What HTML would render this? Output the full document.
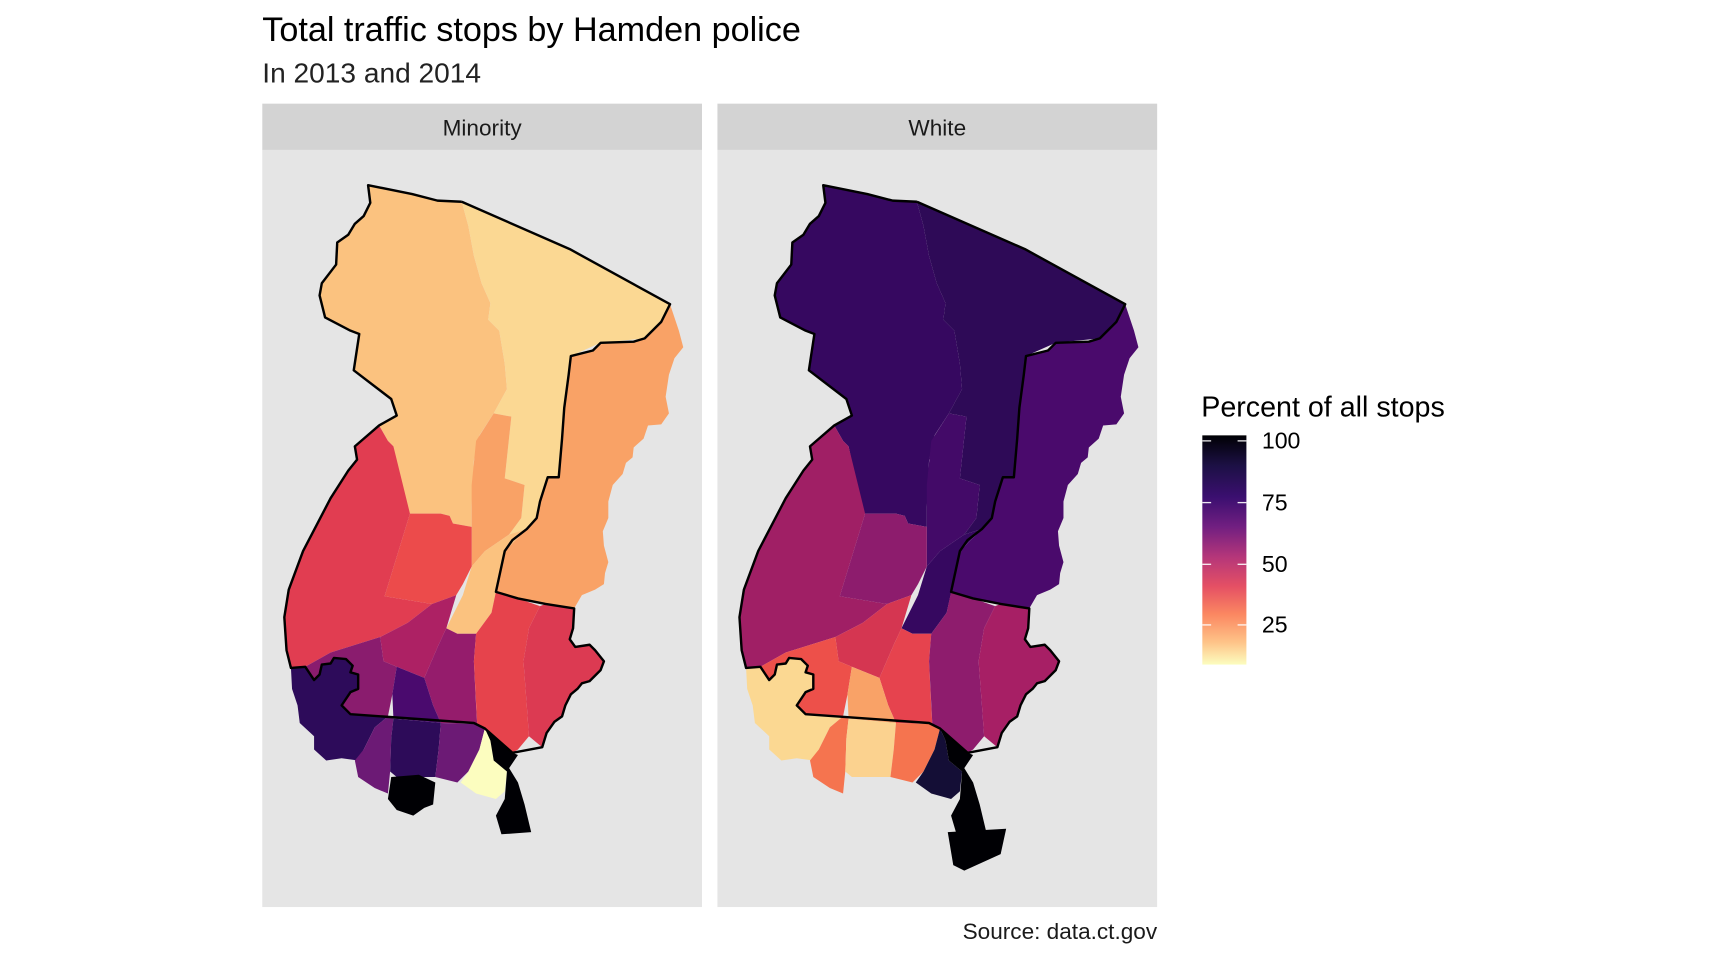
<!DOCTYPE html>
<html><head><meta charset="utf-8"><style>html,body{margin:0;padding:0;background:#fff}svg{display:block}</style></head>
<body>
<svg width="1728" height="960" viewBox="0 0 1568 871" xmlns="http://www.w3.org/2000/svg" font-family="Liberation Sans, Arial, sans-serif">
<defs>
<linearGradient id="mg" x1="0" y1="0" x2="0" y2="1">
<stop offset="0" stop-color="#000004"/><stop offset="0.13" stop-color="#1c1044"/><stop offset="0.27" stop-color="#3b0f70"/><stop offset="0.4" stop-color="#721f81"/><stop offset="0.53" stop-color="#b5367a"/><stop offset="0.66" stop-color="#e55064"/><stop offset="0.78" stop-color="#fb8761"/><stop offset="0.9" stop-color="#fec287"/><stop offset="1" stop-color="#fcfdbf"/>
</linearGradient>
</defs>
<rect width="1568" height="871" fill="#fff"/>
<text x="238" y="37" font-size="31" fill="#000">Total traffic stops by Hamden police</text>
<text x="238" y="75" font-size="25.5" fill="#222">In 2013 and 2014</text>
<rect x="238" y="94" width="399" height="42" fill="#d3d3d3"/>
<rect x="651" y="94" width="399" height="42" fill="#d3d3d3"/>
<text x="437.5" y="123" font-size="20.5" text-anchor="middle" fill="#1a1a1a">Minority</text>
<text x="850.5" y="123" font-size="20.5" text-anchor="middle" fill="#1a1a1a">White</text>
<rect x="238" y="136" width="399" height="687" fill="#e5e5e5"/>
<rect x="651" y="136" width="399" height="687" fill="#e5e5e5"/>
<text x="1050" y="852" font-size="20.5" text-anchor="end" fill="#1a1a1a">Source: data.ct.gov</text>

<!-- Minority panel -->
<g id="m" stroke="none">
<polygon fill="#fbc27f" points="334,168 374,176 397,182 419,183 425,205 430,232 437,257 445,275 443,290 453,300 458,330 460,353 448,375 435,395 430,418 428,460 428,478 411,475 408,468 400,466 370,466 357,405 352,400 344,386 360,377 355,362 321,336 326,303 318,300 295,288 290,268 292,257 305,240 306,220 316,213 322,203 330,196 336,184"/>
<polygon fill="#fbd893" points="419,183 517,226 608,276 600,292 585,307 545,311 518,323 516,340 512,370 510,398 507,433 497,433 490,455 487,470 478,480 462,485 473,470 476,440 458,434 464,378 448,375 460,353 458,330 453,300 443,290 445,275 437,257 430,232 425,205"/>
<polygon fill="#f9a266" points="448,375 464,378 458,434 476,440 473,470 462,485 440,500 428,514 428,480 428,440 432,400"/>
<polygon fill="#fbc27f" points="462,485 478,480 458,500 450,538 446,556 432,575 415,575 405,570 420,540 428,514 440,500"/>
<polygon fill="#f9a266" points="608,276 616,300 620,315 612,325 607,340 604,360 607,375 600,385 588,386 584,398 575,406 574,415 568,420 565,430 556,440 552,455 552,470 547,482 548,495 552,510 549,520 548,530 540,535 528,540 521,552 495,548 470,543 450,537 458,500 478,480 487,470 490,455 497,433 507,433 510,398 512,370 516,340 518,323 538,318 545,311 575,310 585,307 600,292"/>
<polygon fill="#e13d51" points="344,386 322,405 324,417 316,427 300,452 275,500 262,535 258,560 260,590 264,606 277,605 300,592 345,578 370,565 392,548 349,541 372,466 357,405 352,400"/>
<polygon fill="#ec4b4b" points="372,466 400,466 408,468 411,475 428,478 428,514 420,530 414,540 392,548 349,541"/>
<polygon fill="#ad2164" points="392,548 414,540 405,570 398,585 385,615 360,605 348,600 345,578 370,565"/>
<polygon fill="#8a1c6e" points="277,605 300,592 345,578 348,600 360,605 356,630 352,650 318,648 310,640 318,628 325,625 325,612 318,610 320,604 314,598 303,597 300,602 292,603 290,612 285,617"/>
<polygon fill="#2d0b5a" points="264,606 277,605 285,617 290,612 292,603 300,602 303,597 314,598 320,604 318,610 325,612 325,625 318,628 310,640 318,648 352,650 340,660 330,680 325,690 310,688 296,690 285,680 285,668 272,656 270,640 265,625"/>
<polygon fill="#951c6c" points="405,570 415,575 432,575 430,600 432,640 433,657 400,656 393,640 385,615 398,585"/>
<polygon fill="#4a0a6e" points="360,605 385,615 393,640 400,656 357,652 356,630"/>
<polygon fill="#e6434c" points="432,575 446,556 450,537 470,543 490,550 480,570 475,600 478,640 480,668 470,680 465,683 440,661 433,657 430,600"/>
<polygon fill="#dc3a52" points="490,550 495,548 521,552 520,570 517,580 522,587 535,585 540,590 548,600 545,608 535,618 528,620 524,625 518,630 513,640 510,650 503,655 496,665 492,678 480,668 478,640 475,600 480,570"/>
<polygon fill="#6c1a75" points="340,660 352,650 357,652 355,670 354,700 352,720 340,715 325,705 322,690 330,680"/>
<polygon fill="#2d0b59" points="357,652 400,656 398,680 395,705 380,705 360,705 354,700 355,670"/>
<polygon fill="#6c1a75" points="400,656 433,657 440,661 435,680 425,700 415,710 395,705 398,680"/>
<polygon fill="#000004" points="355,705 380,703 395,710 393,730 385,733 375,740 360,735 352,725"/>
<polygon fill="#fcfdbf" points="440,661 445,672 448,690 460,700 458,718 450,725 432,720 418,710 425,700 435,680"/>
<polygon fill="#000004" points="440,661 465,683 470,685 462,697 470,710 476,730 482,755 455,757 450,740 458,725 460,700 448,690 445,672"/>
<polyline fill="none" stroke="#000" stroke-width="2.2" stroke-linejoin="round" points="419,183 397,182 374,176 334,168 336,184 330,196 322,203 316,213 306,220 305,240 292,257 290,268 295,288 318,300 326,303 321,336 355,362 360,377 344,386 322,405 324,417 316,427 300,452 275,500 262,535 258,560 260,590 264,606 277,605 285,617 290,612 292,603 300,602 303,597 314,598 320,604 318,610 325,612 325,625 318,628 310,640 318,648 430,656 440,661 465,683 492,678 496,665 503,655 510,650 513,640 518,630 524,625 528,620 535,618 545,608 548,600 540,590 535,585 522,587 517,580 520,570 521,552 495,548 470,543 450,537 458,500 465,490 478,480 487,470 490,455 497,433 507,433 510,398 512,370 516,340 518,323 538,318 545,311 575,310 585,307 600,292 608,276 517,226 419,183"/>
</g>

<!-- White panel -->
<g transform="translate(413,0)">
<polygon fill="#360860" points="334,168 374,176 397,182 419,183 425,205 430,232 437,257 445,275 443,290 453,300 458,330 460,353 448,375 435,395 430,418 428,460 428,478 411,475 408,468 400,466 370,466 357,405 352,400 344,386 360,377 355,362 321,336 326,303 318,300 295,288 290,268 292,257 305,240 306,220 316,213 322,203 330,196 336,184"/>
<polygon fill="#2e0a57" points="419,183 517,226 608,276 600,292 585,307 545,311 518,323 516,340 512,370 510,398 507,433 497,433 490,455 487,470 478,480 462,485 473,470 476,440 458,434 464,378 448,375 460,353 458,330 453,300 443,290 445,275 437,257 430,232 425,205"/>
<polygon fill="#430a68" points="448,375 464,378 458,434 476,440 473,470 462,485 440,500 428,514 428,480 428,440 432,400"/>
<polygon fill="#360860" points="462,485 478,480 458,500 450,538 446,556 432,575 415,575 405,570 420,540 428,514 440,500"/>
<polygon fill="#4a0a6c" points="608,276 616,300 620,315 612,325 607,340 604,360 607,375 600,385 588,386 584,398 575,406 574,415 568,420 565,430 556,440 552,455 552,470 547,482 548,495 552,510 549,520 548,530 540,535 528,540 521,552 495,548 470,543 450,537 458,500 478,480 487,470 490,455 497,433 507,433 510,398 512,370 516,340 518,323 538,318 545,311 575,310 585,307 600,292"/>
<polygon fill="#a01f65" points="344,386 322,405 324,417 316,427 300,452 275,500 262,535 258,560 260,590 264,606 277,605 300,592 345,578 370,565 392,548 349,541 372,466 357,405 352,400"/>
<polygon fill="#8d1c6d" points="372,466 400,466 408,468 411,475 428,478 428,514 420,530 414,540 392,548 349,541"/>
<polygon fill="#d53651" points="392,548 414,540 405,570 398,585 385,615 360,605 348,600 345,578 370,565"/>
<polygon fill="#ed504a" points="277,605 300,592 345,578 348,600 360,605 356,630 352,650 318,648 310,640 318,628 325,625 325,612 318,610 320,604 314,598 303,597 300,602 292,603 290,612 285,617"/>
<polygon fill="#fbd892" points="264,606 277,605 285,617 290,612 292,603 300,602 303,597 314,598 320,604 318,610 325,612 325,625 318,628 310,640 318,648 352,650 340,660 330,680 325,690 310,688 296,690 285,680 285,668 272,656 270,640 265,625"/>
<polygon fill="#e6434e" points="405,570 415,575 432,575 430,600 432,640 433,657 400,656 393,640 385,615 398,585"/>
<polygon fill="#f9a267" points="360,605 385,615 393,640 400,656 357,652 356,630"/>
<polygon fill="#8e1c6d" points="432,575 446,556 450,537 470,543 490,550 480,570 475,600 478,640 480,668 470,680 465,683 440,661 433,657 430,600"/>
<polygon fill="#a71f65" points="490,550 495,548 521,552 520,570 517,580 522,587 535,585 540,590 548,600 545,608 535,618 528,620 524,625 518,630 513,640 510,650 503,655 496,665 492,678 480,668 478,640 475,600 480,570"/>
<polygon fill="#f5744f" points="340,660 352,650 357,652 355,670 354,700 352,720 340,715 325,705 322,690 330,680"/>
<polygon fill="#fbd28f" points="357,652 400,656 398,680 395,705 380,705 360,705 354,700 355,670"/>
<polygon fill="#f5744f" points="400,656 433,657 440,661 435,680 425,700 415,710 395,705 398,680"/>
<polygon fill="#140e36" points="440,661 445,672 448,690 460,700 458,718 450,725 432,720 418,710 425,700 435,680"/>
<polygon fill="#000004" points="440,661 465,683 470,685 462,697 470,710 476,730 482,755 455,757 450,740 458,725 460,700 448,690 445,672"/>
<polygon fill="#000004" points="447,755 500,752 495,775 462,790 452,785"/>
<polyline fill="none" stroke="#000" stroke-width="2.2" stroke-linejoin="round" points="419,183 397,182 374,176 334,168 336,184 330,196 322,203 316,213 306,220 305,240 292,257 290,268 295,288 318,300 326,303 321,336 355,362 360,377 344,386 322,405 324,417 316,427 300,452 275,500 262,535 258,560 260,590 264,606 277,605 285,617 290,612 292,603 300,602 303,597 314,598 320,604 318,610 325,612 325,625 318,628 310,640 318,648 430,656 440,661 465,683 492,678 496,665 503,655 510,650 513,640 518,630 524,625 528,620 535,618 545,608 548,600 540,590 535,585 522,587 517,580 520,570 521,552 495,548 470,543 450,537 458,500 465,490 478,480 487,470 490,455 497,433 507,433 510,398 512,370 516,340 518,323 538,318 545,311 575,310 585,307 600,292 608,276 517,226 419,183"/>
</g>

<!-- Legend -->
<text x="1090" y="378" font-size="26" fill="#000">Percent of all stops</text>
<rect x="1091" y="395" width="40" height="208" fill="url(#mg)"/>
<g stroke="#fff" stroke-width="1.2" opacity="0.9">
<line x1="1091" y1="400" x2="1099" y2="400"/><line x1="1123" y1="400" x2="1131" y2="400"/>
<line x1="1091" y1="456" x2="1099" y2="456"/><line x1="1123" y1="456" x2="1131" y2="456"/>
<line x1="1091" y1="512" x2="1099" y2="512"/><line x1="1123" y1="512" x2="1131" y2="512"/>
<line x1="1091" y1="567" x2="1099" y2="567"/><line x1="1123" y1="567" x2="1131" y2="567"/>
</g>
<g font-size="21" fill="#000">
<text x="1145" y="407">100</text>
<text x="1145" y="463">75</text>
<text x="1145" y="519">50</text>
<text x="1145" y="574">25</text>
</g>
</svg>
</body></html>
